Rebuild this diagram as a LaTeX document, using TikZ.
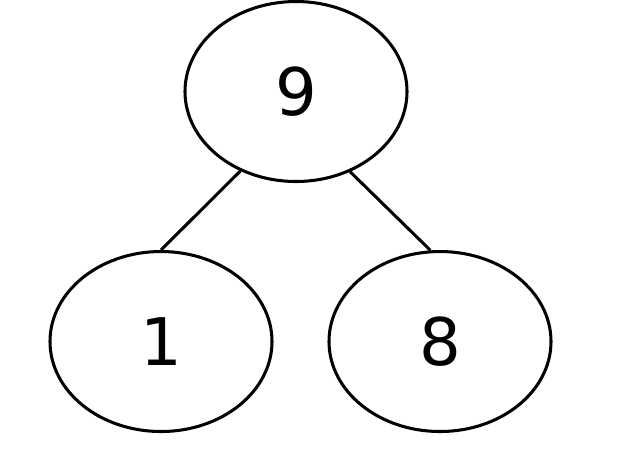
\documentclass[tikz,border=0pt]{standalone}
\usepackage{fontspec}
\setmainfont{DejaVu Sans}
\usetikzlibrary{shapes.geometric}
\tikzset{
  treenode/.style={draw, ellipse, line width=2.6pt, minimum width=6.66cm, minimum height=5.4cm, font=\fontsize{56}{64}\selectfont, inner sep=0pt},
  edge/.style={line width=2.6pt}
}
\begin{document}
\begin{tikzpicture}[x=0.03cm,y=0.03cm]
		% tree nodes
		\node[treenode, minimum width=6.66cm, minimum height=5.4cm] (nine) at (296,368) {9};
		\node[treenode] (one) at (161,118) {1};
		\node[treenode] (eight) at (440,118) {8};
		% branches
		\draw[edge] (nine.-125) -- (one.north);
		\draw[edge] (nine.-56) -- (eight.96);
		
		\useasboundingbox (0,0) rectangle (619,459);
	\end{tikzpicture}
\end{document}
